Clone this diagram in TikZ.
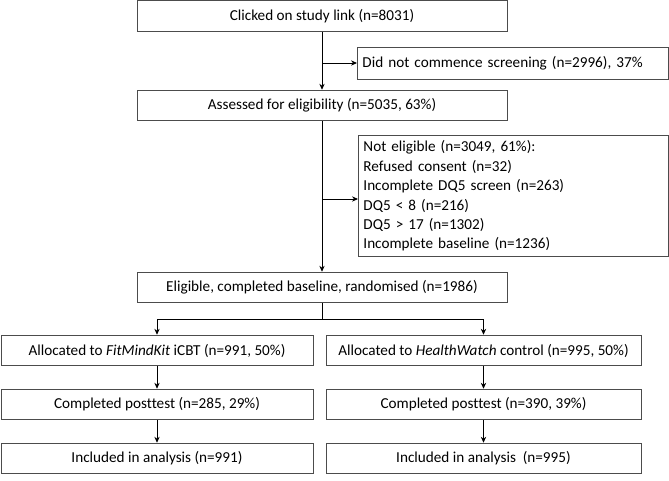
\documentclass[tikz,border=0pt]{standalone}
\usepackage{fontspec}
\setmainfont{Carlito}[Ligatures=CommonOff]
\usetikzlibrary{shapes, arrows.meta}
\tikzstyle{mainbox} = [rectangle, draw=black!70, line width=0.65pt, inner sep=0pt, minimum height=23pt, text centered]
\tikzstyle{sidebox} = [rectangle, draw=black!70, line width=0.65pt, inner xsep=3.75pt, inner ysep=0pt, align=left]
\tikzstyle{arrow} = [line width=0.65pt, -{Stealth[length=4.5pt, width=4pt]}]

\begin{document}
\begin{tikzpicture}[x=0.75pt, y=-0.75pt, font=\fontsize{11.4}{14.6}\selectfont]
    \useasboundingbox (0,0) rectangle (669,480);
    % top part
    \node (click) [mainbox, minimum width=277.5pt] at (322,16) {Clicked on study link (n=8031)};
    \node (nocommence) [sidebox, anchor=west, text width=225.75pt, minimum height=24pt] at (357,63) {Did not commence screening (n=2996), 37\%};
    \node (assessed) [mainbox, minimum width=277.5pt] at (322,105.5) {Assessed for eligibility (n=5035, 63\%)};
    \node (noteligible) [sidebox, anchor=north west, text width=225pt, minimum height=90.75pt] at (358,135) {Not eligible (n=3049, 61\%):\\ Refused consent (n=32)\\ Incomplete DQ5 screen (n=263)\\ DQ5 < 8 (n=216)\\ DQ5 > 17 (n=1302)\\ Incomplete baseline (n=1236)};
    \node (eligible) [mainbox, minimum width=277.5pt] at (322,287.5) {Eligible, completed baseline, randomised (n=1986)};
    \coordinate (split) at (322,319);
    % two arms
    \node (alloc1) [mainbox, minimum width=234pt] at (157,350.5) {Allocated to \textit{FitMindKit} iCBT (n=991, 50\%)};
    \node (alloc2) [mainbox, minimum width=236.25pt] at (483.5,350.5) {Allocated to \textit{HealthWatch} control (n=995, 50\%)};
    \node (post1) [mainbox, minimum width=234pt] at (157,404.5) {Completed posttest (n=285, 29\%)};
    \node (post2) [mainbox, minimum width=236.25pt] at (483.5,404.5) {Completed posttest (n=390, 39\%)};
    \node (incl1) [mainbox, minimum width=234pt] at (157,458.5) {Included in analysis (n=991)};
    \node (incl2) [mainbox, minimum width=236.25pt] at (483.5,458.5) {Included in analysis~ (n=995)};

    \coordinate (exit1) at (click.south |- nocommence.west);
    \coordinate (exit2) at (322,199);
    \draw [arrow] (click) -- (assessed);
    \draw [arrow] (exit1) -- (nocommence.west);
    \draw [arrow] (assessed) -- (eligible);
    \draw [arrow] (exit2) -- (exit2 -| noteligible.west);
    \draw [line width=0.65pt] (eligible) -- (split);
    \draw [arrow] (split) -| (alloc1);
    \draw [arrow] (split) -| (alloc2);
    \draw [arrow] (alloc1) -- (post1);
    \draw [arrow] (post1) -- (incl1);
    \draw [arrow] (alloc2) -- (post2);
    \draw [arrow] (post2) -- (incl2);
\end{tikzpicture}
\end{document}
